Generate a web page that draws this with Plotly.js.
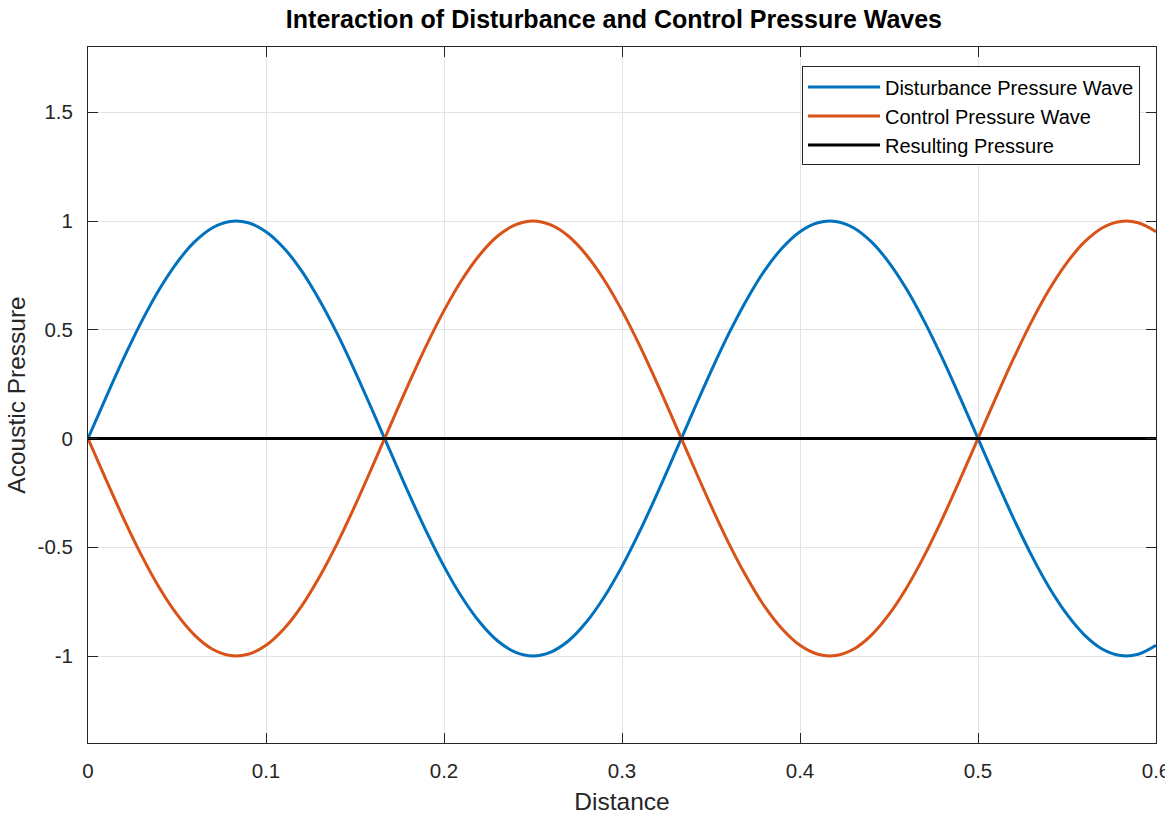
<!DOCTYPE html>
<html>
<head>
<meta charset="utf-8">
<script src="https://cdn.plot.ly/plotly-3.0.1.min.js"></script>
<style>html,body{margin:0;padding:0;background:#fff;overflow:hidden;} #chart{width:1165px;height:817px;}</style>
</head>
<body>
<div id="chart"></div>
<script>
// Distance samples (step 0.01)
const distance = [0,0.01,0.02,0.03,0.04,0.05,0.06,0.07,0.08,0.09,0.10,0.11,0.12,0.13,0.14,0.15,0.16,0.17,0.18,0.19,0.20,0.21,0.22,0.23,0.24,0.25,0.26,0.27,0.28,0.29,0.30,0.31,0.32,0.33,0.34,0.35,0.36,0.37,0.38,0.39,0.40,0.41,0.42,0.43,0.44,0.45,0.46,0.47,0.48,0.49,0.50,0.51,0.52,0.53,0.54,0.55,0.56,0.57,0.58,0.59,0.60];
const disturbance = [0,0.187,0.368,0.536,0.685,0.809,0.905,0.969,0.998,0.992,0.951,0.876,0.771,0.637,0.482,0.309,0.125,-0.063,-0.249,-0.426,-0.588,-0.729,-0.844,-0.930,-0.982,-1.000,-0.982,-0.930,-0.844,-0.729,-0.588,-0.426,-0.249,-0.063,0.125,0.309,0.482,0.637,0.771,0.876,0.951,0.992,0.998,0.969,0.905,0.809,0.685,0.536,0.368,0.187,0,-0.187,-0.368,-0.536,-0.685,-0.809,-0.905,-0.969,-0.998,-0.992,-0.951];
const control = [0,-0.187,-0.368,-0.536,-0.685,-0.809,-0.905,-0.969,-0.998,-0.992,-0.951,-0.876,-0.771,-0.637,-0.482,-0.309,-0.125,0.063,0.249,0.426,0.588,0.729,0.844,0.930,0.982,1.000,0.982,0.930,0.844,0.729,0.588,0.426,0.249,0.063,-0.125,-0.309,-0.482,-0.637,-0.771,-0.876,-0.951,-0.992,-0.998,-0.969,-0.905,-0.809,-0.685,-0.536,-0.368,-0.187,0,0.187,0.368,0.536,0.685,0.809,0.905,0.969,0.998,0.992,0.951];
const resultX = [0, 0.60];
const resulting = [0, 0];
const xTicks = [0,0.1,0.2,0.3,0.4,0.5,0.6];
const xTickText = ['0','0.1','0.2','0.3','0.4','0.5','0.6'];
const yTicks = [-1,-0.5,0,0.5,1,1.5];
const yTickText = ['-1','-0.5','0','0.5','1','1.5'];

const font = 'Arial, "Liberation Sans", Helvetica, sans-serif';
const traces = [
  {x: distance, y: disturbance, type:'scatter', mode:'lines', name:'Disturbance Pressure Wave',
   line:{color:'#0072BD', width:3, shape:'spline', smoothing:1}},
  {x: distance, y: control, type:'scatter', mode:'lines', name:'Control Pressure Wave',
   line:{color:'#D95319', width:3, shape:'spline', smoothing:1}},
  {x: resultX, y: resulting, type:'scatter', mode:'lines', name:'Resulting Pressure',
   line:{color:'#000000', width:3}}
];
const axisCommon = {
  showline:true, linecolor:'#262626', linewidth:1, mirror:'ticks',
  ticks:'inside', ticklen:10, tickwidth:1, tickcolor:'#262626',
  showgrid:true, gridcolor:'#e3e3e3', gridwidth:1, zeroline:false,
  ticklabeloverflow:'allow',
  tickfont:{family:font, size:20.5, color:'#262626'}
};
const layout = {
  width:1165, height:817,
  paper_bgcolor:'#ffffff', plot_bgcolor:'#ffffff',
  margin:{l:88, r:9, t:47, b:74},
  title:{text:'<b>Interaction of Disturbance and Control Pressure Waves</b>', x:0.527, xanchor:'center', y:0.977, yanchor:'middle',
         font:{family:font, size:25, color:'#000000'}},
  xaxis: Object.assign({}, axisCommon, {range:[0,0.6], tickvals:xTicks, ticktext:xTickText,
         ticklabelstandoff:9,
         title:{text:'Distance', font:{family:font, size:24.5, color:'#262626'}, standoff:12}}),
  yaxis: Object.assign({}, axisCommon, {range:[-1.4,1.8], tickvals:yTicks, ticktext:yTickText,
         ticklabelstandoff:10,
         title:{text:'Acoustic Pressure', font:{family:font, size:24.5, color:'#262626'}, standoff:4}}),
  showlegend:true,
  legend:{x:0.985, xanchor:'right', y:0.972, yanchor:'top', bgcolor:'#ffffff', bordercolor:'#262626', borderwidth:1,
          font:{family:font, size:20, color:'#000000'}, tracegroupgap:0, itemwidth:72},
  hovermode:false
};
Plotly.newPlot('chart', traces, layout, {staticPlot:true, displayModeBar:false});
</script>
</body>
</html>
